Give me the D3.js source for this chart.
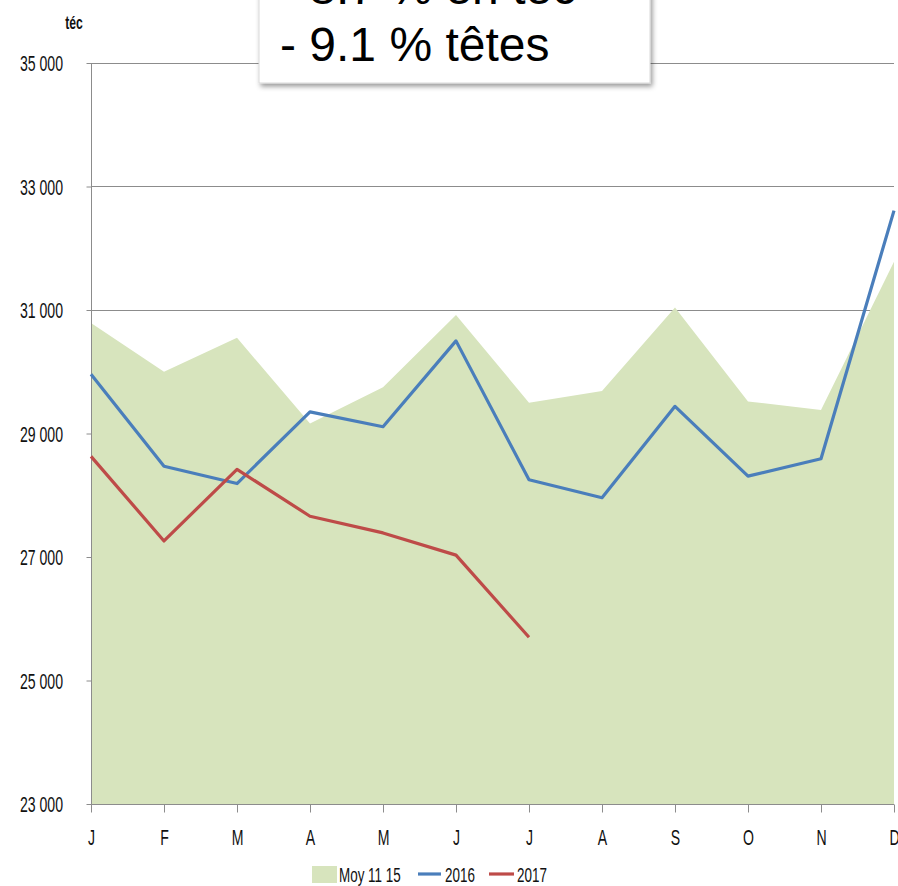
<!DOCTYPE html>
<html>
<head>
<meta charset="utf-8">
<script src="https://cdn.jsdelivr.net/npm/d3@7"></script>
<style>
  html, body { margin: 0; padding: 0; background: #fff; }
  svg { display: block; }
</style>
</head>
<body>
<svg id="chart" width="898" height="886"></svg>
<script>
const months = ["J","F","M","A","M","J","J","A","S","O","N","D"];
const moy1115 = [30790, 30000, 30550, 29160, 29750, 30920, 29500, 29690, 31040, 29520, 29380, 31780];
const s2016 = [29960, 28470, 28190, 29350, 29110, 30500, 28250, 27960, 29440, 28310, 28590, 32610];
const s2017 = [28630, 27260, 28420, 27660, 27390, 27030, 25700];
const yTicks = [23000, 25000, 27000, 29000, 31000, 33000, 35000];
const unitLabel = "téc";
const noteLines = ["- 8.7 % en téc", "- 9.1 % têtes"];
const legendNames = ["Moy 11 15", "2016", "2017"];

const colArea = "#d7e4bd", colBlue = "#4a7ebb", colRed = "#be4b48", colGrid = "#8c8c8c";
const FONT = "'Liberation Sans', Arial, sans-serif";
const SX = 0.64; // horizontal condensing

const svg = d3.select("#chart");
const x = d3.scalePoint().domain(d3.range(12)).range([91, 894]);
const y = d3.scaleLinear().domain([23000, 35000]).range([804, 63]);
const fmt = v => d3.format(",")(v).replace(",", " ");

function condText(sel, px, py, size, anchor, weight) {
  return sel.append("text")
    .attr("transform", `translate(${px},${py}) scale(${SX},1)`)
    .attr("text-anchor", anchor || "start")
    .attr("font-family", FONT).attr("font-size", size)
    .attr("font-weight", weight || "normal").attr("fill", "#111");
}

// gridlines
svg.append("g").selectAll("line").data(yTicks).join("line")
  .attr("x1", 91).attr("x2", 894)
  .attr("y1", d => Math.round(y(d)) + 0.5).attr("y2", d => Math.round(y(d)) + 0.5)
  .attr("stroke", colGrid).attr("stroke-width", 1);

// area
const area = d3.area().x((d, i) => x(i)).y0(y(23000)).y1(d => y(d));
svg.append("path").datum(moy1115).attr("d", area).attr("fill", colArea);

// left axis
const yAxis = d3.axisLeft(y).tickValues(yTicks).tickSize(5).tickFormat(fmt).tickPadding(23);
const gy = svg.append("g").attr("transform", "translate(91.5,0)").call(yAxis);
gy.attr("font-family", FONT).attr("font-size", 22);
gy.select(".domain").attr("stroke", colGrid).attr("d", `M0,${y(35000)}V${y(23000)}`);
gy.selectAll(".tick line").attr("stroke", colGrid);
gy.selectAll(".tick text").attr("fill", "#111")
  .attr("x", -28.5 / SX).attr("dy", "0.35em").attr("transform", `scale(${SX},1)`);

// bottom axis
const xAxis = d3.axisBottom(x).tickSize(8).tickFormat(i => months[i]).tickPadding(17);
const gx = svg.append("g").attr("transform", "translate(0,804.5)").call(xAxis);
gx.attr("font-family", FONT).attr("font-size", 22);
gx.select(".domain").attr("stroke", colGrid).attr("d", `M91,0H894`);
gx.selectAll(".tick line").attr("stroke", colGrid);
gx.selectAll(".tick text").attr("fill", "#111").attr("transform", `scale(${SX},1)`);

// lines
const line = d3.line().x((d, i) => x(i)).y(d => y(d));
svg.append("path").datum(s2016).attr("d", line).attr("fill", "none")
  .attr("stroke", colBlue).attr("stroke-width", 3.2).attr("stroke-linejoin", "round");
svg.append("path").datum(s2017).attr("d", line).attr("fill", "none")
  .attr("stroke", colRed).attr("stroke-width", 3.2).attr("stroke-linejoin", "round");

// unit label
condText(svg, 74, 29, 19, "middle", "bold").text(unitLabel);

// annotation box
const defs = svg.append("defs");
const f = defs.append("filter").attr("id", "shadow").attr("x", "-10%").attr("y", "-10%").attr("width", "130%").attr("height", "140%");
f.append("feDropShadow").attr("dx", 2).attr("dy", 3).attr("stdDeviation", 2.5)
  .attr("flood-color", "#000").attr("flood-opacity", 0.4);
svg.append("rect").attr("x", 259).attr("y", -20).attr("width", 391).attr("height", 103)
  .attr("fill", "#fff").attr("stroke", "#d9d9d9").attr("stroke-width", 1)
  .attr("filter", "url(#shadow)");
svg.append("g").selectAll("text").data(noteLines).join("text")
  .attr("x", 280).attr("y", (d, i) => 4 + i * 57)
  .attr("font-family", "Arial, 'Liberation Sans', sans-serif").attr("font-size", 48)
  .attr("fill", "#000").text(d => d);

// legend
const lg = svg.append("g");
lg.append("rect").attr("x", 312).attr("y", 866).attr("width", 25).attr("height", 17).attr("fill", colArea);
condText(lg, 339, 882, 21).text(legendNames[0]);
lg.append("line").attr("x1", 418).attr("x2", 441).attr("y1", 874).attr("y2", 874)
  .attr("stroke", colBlue).attr("stroke-width", 3.2);
condText(lg, 445, 882, 21).text(legendNames[1]);
lg.append("line").attr("x1", 489).attr("x2", 514).attr("y1", 874).attr("y2", 874)
  .attr("stroke", colRed).attr("stroke-width", 3.2);
condText(lg, 517, 882, 21).text(legendNames[2]);
</script>
</body>
</html>
